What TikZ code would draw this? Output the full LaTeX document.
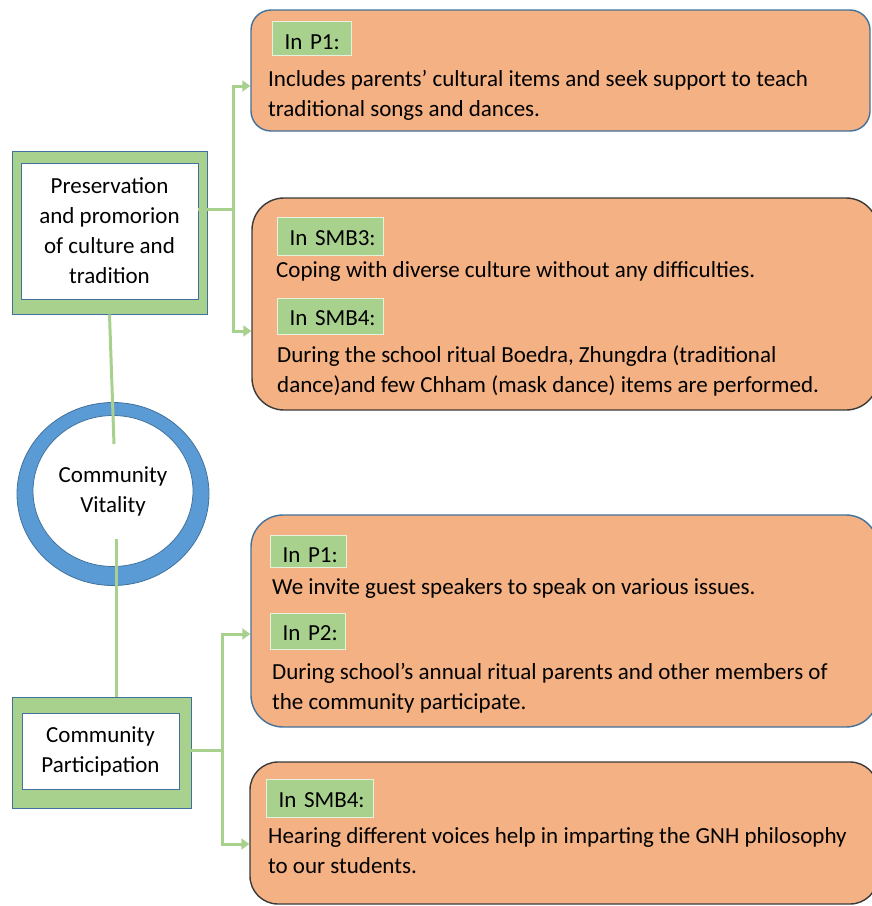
\documentclass[tikz,border=0pt]{standalone}
\usepackage{fontspec}
\setmainfont{Carlito}
\usetikzlibrary{arrows.meta,shapes.geometric}

\definecolor{boxorange}{HTML}{F4B183}
\definecolor{leafgreen}{HTML}{A9D18E}
\definecolor{paleedge}{HTML}{E6F1DE}
\definecolor{ringblue}{HTML}{5B9BD5}
\definecolor{steeledge}{HTML}{41719C}
\definecolor{darkedge}{HTML}{3A3A3A}

\tikzset{
  txt/.style={font=\fontsize{23}{30}\selectfont},
  card/.style={rectangle, rounded corners=#1, fill=boxorange, line width=1.4pt, inner sep=0pt},
  bluecard/.style={card=#1, draw=steeledge},
  darkcard/.style={card=#1, draw=darkedge},
  line/.style={txt, inner sep=0pt, anchor=base west},
  tag/.style={txt, fill=leafgreen, draw=paleedge, line width=1pt, inner xsep=12pt,
    inner ysep=0pt, anchor=north west, align=left},
  frameout/.style={rectangle, fill=leafgreen, draw=steeledge, line width=0.8pt, inner sep=0pt},
  framein/.style={rectangle, fill=white, draw=steeledge, line width=0.8pt, inner sep=0pt,
    txt, align=center},
  conn/.style={draw=leafgreen, line width=3pt},
  connarrow/.style={conn, -{Triangle[width=11pt,length=8pt]}},
}

\begin{document}
\begin{tikzpicture}[x=1pt,y=-1pt]
\useasboundingbox (0,0) rectangle (872,906);
\clip (0,0) rectangle (872,906);

% orange cards
\node[bluecard=20pt, minimum width=619pt, minimum height=121pt] (card1) at (560.5,70.5) {};
\node[darkcard=32pt, minimum width=626pt, minimum height=212pt] (card2) at (565,304) {};
\node[bluecard=32pt, minimum width=627pt, minimum height=212pt] (card3) at (564.5,621) {};
\node[darkcard=28pt, minimum width=628pt, minimum height=142pt] (card4) at (564,833) {};

% card 1
\node[tag, text width=55pt, text height=28pt, text depth=6pt] (t1) at (272,21) {\mbox{In P1:}};
\node[line] (l1a) at (268,86) {Includes parents’ cultural items and seek support to teach};
\node[line] (l1b) at (268,116) {traditional songs and dances.};

% card 2
\node[tag, text width=82pt, text height=28pt, text depth=10pt] (t2a) at (277,217) {\mbox{In SMB3:}};
\node[line] (l2a) at (276,277) {Coping with diverse culture without any difficulties.};
\node[tag, text width=82pt, text height=27pt, text depth=9pt] (t2b) at (277,298) {\mbox{In SMB4:}};
\node[line] (l2b) at (277,362) {During the school ritual Boedra, Zhungdra (traditional};
\node[line] (l2c) at (277,392) {dance)and few Chham (mask dance) items are performed.};

% card 3
\node[tag, text width=52pt, text height=27pt, text depth=5pt] (t3a) at (270,535) {\mbox{In P1:}};
\node[line] (l3a) at (272,594) {We invite guest speakers to speak on various issues.};
\node[tag, text width=51pt, text height=27pt, text depth=9pt] (t3b) at (270,613) {\mbox{In P2:}};
\node[line] (l3b) at (272,679) {During school’s annual ritual parents and other members of};
\node[line] (l3c) at (272,709) {the community participate.};

% card 4
\node[tag, text width=83pt, text height=28pt, text depth=10pt] (t4) at (266,779) {\mbox{In SMB4:}};
\node[line] (l4a) at (268,843) {Hearing different voices help in imparting the GNH philosophy};
\node[line] (l4b) at (268,873) {to our students.};

% left theme boxes
\node[frameout, minimum width=195pt, minimum height=163pt] (presout) at (109.5,232.5) {};
\node[framein, minimum width=177pt, minimum height=136pt] (presin) at (109.5,231)
  {Preservation\\and promorion\\of culture and\\tradition};
\node[frameout, minimum width=179pt, minimum height=111pt] (partout) at (101.5,752.5) {};
\node[framein, minimum width=157pt, minimum height=76pt] (partin) at (100.5,751)
  {Community\\Participation};

% central ring
\node[ellipse, minimum width=192pt, minimum height=183pt, fill=ringblue, draw=steeledge,
  line width=0.8pt, inner sep=0pt] (ring) at (113,494) {};
\node[ellipse, minimum width=160pt, minimum height=151pt, fill=white, draw=steeledge,
  line width=0.8pt, inner sep=0pt, txt, align=center] (vital) at (113,491)
  {Community\\Vitality};

% connector anchors
\coordinate (ringtop) at (114,444);
\coordinate (ringbot) at (116,539);
\coordinate (hub1) at (233,209);
\coordinate (hub2) at (222,750);
\coordinate (row1) at (0,86);
\coordinate (row2) at (0,331);
\coordinate (row3) at (0,634);
\coordinate (row4) at (0,844);

% connectors
\draw[conn] (presout.south) -- (ringtop);
\draw[conn] (ringbot) -- (ringbot |- partout.north);
\draw[conn] (presin.east |- hub1) -- (hub1);
\draw[connarrow] (hub1) |- (card1.west |- row1);
\draw[connarrow] (hub1) |- (card2.west |- row2);
\draw[conn] (partout.east |- hub2) -- (hub2);
\draw[connarrow] (hub2) |- (card3.west |- row3);
\draw[connarrow] (hub2) |- (card4.west |- row4);
\end{tikzpicture}
\end{document}
